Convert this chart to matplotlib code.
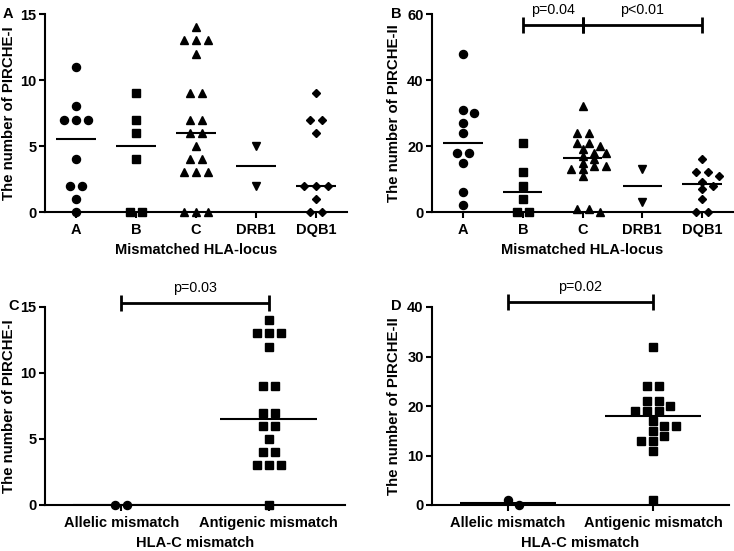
import numpy as np
import matplotlib.pyplot as plt

plt.rcParams['font.family'] = ['Liberation Sans', 'DejaVu Sans']
plt.rcParams['font.weight'] = 'bold'

# ---- data ----
loci = ['A', 'B', 'C', 'DRB1', 'DQB1']
loci_markers = ['o', 's', '^', 'v', 'D']

p1_A = [11, 8, 7, 7, 7, 4, 2, 2, 1, 0]
p1_B = [9, 7, 6, 4, 0, 0]
p1_C = [14, 13, 13, 13, 12, 9, 9, 7, 7, 6, 6, 5, 4, 4, 3, 3, 3, 0, 0, 0]
p1_DRB1 = [5, 2]
p1_DQB1 = [9, 7, 7, 6, 2, 2, 2, 1, 0, 0]

p2_A = [48, 31, 30, 27, 24, 18, 18, 15, 6, 2]
p2_B = [21, 12, 8, 4, 0, 0]
p2_C = [32, 24, 24, 21, 21, 20, 19, 18, 18, 17, 16, 15, 14, 14, 13, 13, 11, 1, 1, 0]
p2_DRB1 = [13, 3]
p2_DQB1 = [16, 12, 12, 11, 9, 8, 7, 4, 0, 0]

hlac_groups = ['Allelic mismatch', 'Antigenic mismatch']
hlac_markers = ['o', 's']
p1_allelic = [0, 0]
p1_antigenic = [14, 13, 13, 13, 12, 9, 9, 7, 7, 6, 6, 5, 4, 4, 3, 3, 3, 0]
p2_allelic = [1, 0]
p2_antigenic = [32, 24, 24, 21, 21, 20, 19, 19, 19, 17, 16, 16, 15, 14, 13, 13, 11, 1]

W, H = 734, 551
fig = plt.figure(figsize=(W / 100, H / 100), dpi=100)


def px_axes(left, right, top, bottom):
    return fig.add_axes([left / W, 1 - bottom / H, (right - left) / W, (bottom - top) / H])


def setup(ax, ylim, yticks, labels, xlabel, ylabel, ylab_x):
    n = len(labels)
    ax.set_xlim(-0.52, n - 0.48)
    ax.set_ylim(*ylim)
    ax.set_yticks(yticks)
    ax.set_xticks(range(n))
    ax.set_xticklabels(labels)
    for s in ['top', 'right']:
        ax.spines[s].set_visible(False)
    for s in ['left', 'bottom']:
        ax.spines[s].set_linewidth(1.5)
    ax.tick_params(width=1.5, length=4, labelsize=10.5, direction='out')
    ax.tick_params(axis='y', pad=2)
    ax.tick_params(axis='x', pad=4)
    ax.set_xlabel(xlabel, fontsize=10.5, fontweight='bold', labelpad=4)
    ax.set_ylabel(ylabel, fontsize=10.8, fontweight='bold')
    ax.yaxis.set_label_coords(ylab_x, 0.5)


def swarm(ax, values, center, marker, ms, step=12, dy_lim=6):
    # equal values sit in centred rows; rows slide sideways to avoid overlap
    to_px = ax.transData.transform
    xpx = to_px((1, 0))[0] - to_px((0, 0))[0]
    placed = []
    xs, ys = [], []
    shifts = [0]
    for k in range(1, 60):
        shifts += [k, -k]
    for v in sorted(set(values), reverse=True):
        n = values.count(v)
        yp = to_px((center, v))[1]
        offs = (np.arange(n) - (n - 1) / 2) * step
        for s in shifts:
            ok = all(abs(o + s - qx) >= step - 1 or abs(yp - qy) >= dy_lim
                     for o in offs for qx, qy in placed)
            if ok:
                break
        for o in offs:
            placed.append((o + s, yp))
            xs.append(center + (o + s) / xpx)
            ys.append(v)
    ax.plot(xs, ys, linestyle='none', marker=marker, ms=ms, color='black',
            clip_on=False, zorder=4)
    ax.hlines(np.median(values), center - 0.33, center + 0.33, color='black',
              lw=1.5, zorder=3)


def bracket(ax, x0, x1, y, text):
    to_px = ax.transData.transform
    ypx = to_px((0, 1))[1] - to_px((0, 0))[1]
    h = 8 / ypx
    kw = dict(color='black', lw=2, clip_on=False, solid_capstyle='butt')
    ax.plot([x0, x1], [y, y], **kw)
    ax.plot([x0, x0], [y - h, y + h], **kw)
    ax.plot([x1, x1], [y - h, y + h], **kw)
    ax.annotate(text, ((x0 + x1) / 2, y), xytext=(0, 11), textcoords='offset points',
                ha='center', va='center', fontsize=10.3, fontweight='normal',
                annotation_clip=False)


ms_map = {'o': 5.8, 's': 5.4, '^': 6.2, 'v': 6.2, 'D': 4.4}

# panel A
axA = px_axes(45, 347, 14, 212)
setup(axA, (0, 15), [0, 5, 10, 15], loci, 'Mismatched HLA-locus',
      'The number of PIRCHE-I', -0.096)
for i, vals in enumerate([p1_A, p1_B, p1_C, p1_DRB1, p1_DQB1]):
    swarm(axA, vals, i, loci_markers[i], ms_map[loci_markers[i]])

# panel B
axB = px_axes(432, 733, 14, 212)
setup(axB, (0, 60), [0, 20, 40, 60], loci, 'Mismatched HLA-locus',
      'The number of PIRCHE-II', -0.103)
for i, vals in enumerate([p2_A, p2_B, p2_C, p2_DRB1, p2_DQB1]):
    swarm(axB, vals, i, loci_markers[i], ms_map[loci_markers[i]])
bracket(axB, 1, 2, 56.7, 'p=0.04')
bracket(axB, 2, 4, 56.7, 'p<0.01')

# panel C
axC = px_axes(45, 345, 307, 505)
setup(axC, (0, 15), [0, 5, 10, 15], hlac_groups, 'HLA-C mismatch',
      'The number of PIRCHE-I', -0.097)
for i, vals in enumerate([p1_allelic, p1_antigenic]):
    swarm(axC, vals, i, hlac_markers[i], ms_map[hlac_markers[i]])
bracket(axC, 0, 1, 15.28, 'p=0.03')

# panel D
axD = px_axes(432, 729, 307, 505)
setup(axD, (0, 40), [0, 10, 20, 30, 40], hlac_groups, 'HLA-C mismatch',
      'The number of PIRCHE-II', -0.104)
for i, vals in enumerate([p2_allelic, p2_antigenic]):
    swarm(axD, vals, i, hlac_markers[i], ms_map[hlac_markers[i]])
bracket(axD, 0, 1, 41, 'p=0.02')

# panel letters
for letter, (x, y) in zip('ABCD', [(8, 14), (396, 14), (14, 306), (396, 306)]):
    fig.text(x / W, 1 - y / H, letter, ha='center', va='center',
             fontsize=10.5, fontweight='bold')

fig.savefig('out.png', dpi=100)
